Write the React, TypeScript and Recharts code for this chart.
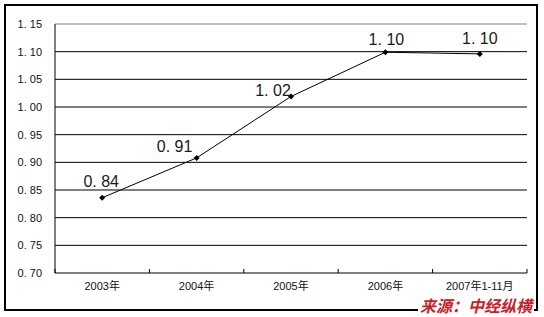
import { CartesianGrid, LabelList, Line, LineChart, ReferenceLine, XAxis, YAxis } from "recharts";

const YEARS = ["2003年", "2004年", "2005年", "2006年", "2007年1-11月"];
const RATIO = [0.836, 0.908, 1.019, 1.099, 1.096];
const Y_TICKS = [0.7, 0.75, 0.8, 0.85, 0.9, 0.95, 1.0, 1.05, 1.1, 1.15];
const SOURCE = "来源：中经纵横";

// hand-placed label nudges, like the original Excel labels
const LABEL_NUDGE = [
  { dx: -1, dy: -16 },
  { dx: -22, dy: -11 },
  { dx: -18, dy: -6 },
  { dx: 1, dy: -13 },
  { dx: 0, dy: -15 },
];

const rows = YEARS.map((year, i) => ({ year, value: RATIO[i] }));

// the original shows "1. 15" style numbers
const fmt = (v: number) => v.toFixed(2).replace(".", ". ");

const FONT = '"Liberation Sans", "Noto Sans CJK SC", sans-serif';

function Diamond(props: any) {
  const { cx, cy } = props;
  if (cx == null || cy == null) return null;
  return <path d={`M${cx},${cy - 3}L${cx + 3},${cy}L${cx},${cy + 3}L${cx - 3},${cy}Z`} fill="#000" />;
}

function XTick(props: any) {
  const { x, y, payload } = props;
  const half = Number(payload?.offset ?? 0);
  const last = payload?.index === YEARS.length - 1;
  return (
    <g>
      <line x1={x - half} x2={x - half} y1={y} y2={y - 4} stroke="#000" />
      {last ? <line x1={x + half} x2={x + half} y1={y} y2={y - 4} stroke="#000" /> : null}
      <text x={x} y={y + 13} textAnchor="middle" dominantBaseline="central" fontSize={11} fill="#111" fontFamily={FONT}>
        {payload.value}
      </text>
    </g>
  );
}

function YTick(props: any) {
  const { x, y, payload } = props;
  return (
    <text
      x={x}
      y={y}
      textAnchor="end"
      dominantBaseline="central"
      fontSize={11}
      fill="#111"
      fontFamily={FONT}
      style={{ whiteSpace: "pre" }}
    >
      {fmt(Number(payload.value))}
    </text>
  );
}

function PointLabel(props: any) {
  const { x, y, value, index } = props;
  const n = LABEL_NUDGE[index] ?? { dx: 0, dy: -14 };
  return (
    <text
      x={Number(x) + n.dx}
      y={Number(y) + n.dy}
      textAnchor="middle"
      dominantBaseline="central"
      fontSize={16}
      fill="#1a1a1a"
      fontFamily={FONT}
    >
      {fmt(Number(value))}
    </text>
  );
}

export default function App() {
  return (
    <div style={{ position: "absolute", left: 0, top: 0, width: 544, height: 317, background: "#fff" }}>
      <div
        style={{
          position: "absolute",
          left: 4,
          top: 4,
          width: 534,
          height: 307,
          border: "2px solid #000",
          boxSizing: "border-box",
        }}
      />
      <div style={{ position: "absolute", left: 0, top: 0 }}>
        <LineChart width={544} height={317} data={rows} margin={{ top: 24, right: 17, bottom: 14, left: 5 }}>
          <CartesianGrid vertical={false} stroke="#000" horizontalValues={Y_TICKS.slice(1, -1)} />
          <XAxis
            dataKey="year"
            scale="band"
            height={30}
            axisLine={{ stroke: "#000" }}
            tickLine={false}
            tickSize={0}
            tickMargin={0}
            tick={<XTick />}
            interval={0}
          />
          <YAxis
            width={50}
            domain={[0.7, 1.15]}
            ticks={Y_TICKS}
            interval={0}
            tickLine={false}
            tickSize={0}
            tickMargin={13}
            axisLine={{ stroke: "#000" }}
            tick={<YTick />}
          />
          <YAxis
            yAxisId="r"
            orientation="right"
            width={0}
            tick={false}
            tickLine={false}
            axisLine={{ stroke: "#808080" }}
          />
          <ReferenceLine y={1.15} stroke="#808080" />
          <Line
            dataKey="value"
            stroke="#000"
            strokeWidth={1}
            dot={<Diamond />}
            activeDot={false}
            isAnimationActive={false}
          >
            <LabelList dataKey="value" content={<PointLabel />} />
          </Line>
        </LineChart>
      </div>
      <div
        style={{
          position: "absolute",
          left: 418,
          top: 297,
          padding: "0 2px",
          background: "#fff",
          color: "#c8202a",
          fontFamily: '"Noto Sans CJK SC", sans-serif',
          fontWeight: 700,
          fontStyle: "italic",
          fontSize: 16,
          lineHeight: "16px",
          whiteSpace: "nowrap",
        }}
      >
        {SOURCE}
      </div>
    </div>
  );
}
